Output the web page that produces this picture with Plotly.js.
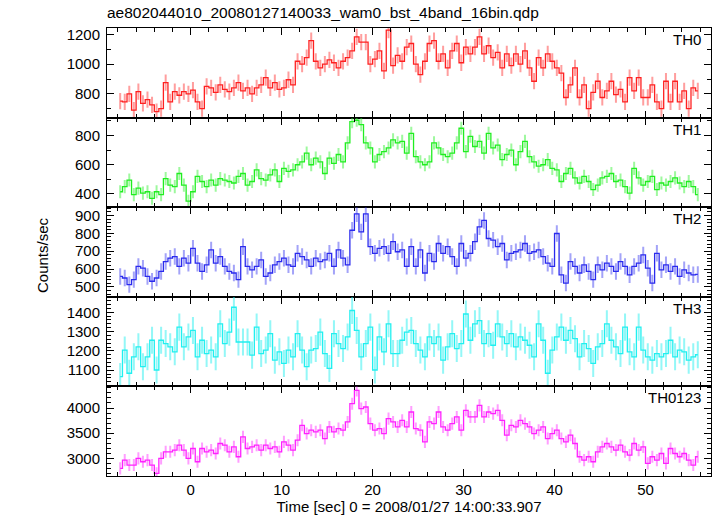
<!DOCTYPE html>
<html><head><meta charset="utf-8">
<script src="https://cdn.plot.ly/plotly-3.0.1.min.js"></script>
<style>html,body{margin:0;padding:0;background:#fff}</style>
</head><body><div id="chart" style="width:717px;height:516px"></div>
<script>
const tStart = -7.75, binWidth = 0.5;
const bandNames = ['TH0', 'TH1', 'TH2', 'TH3', 'TH0123'];
const th0 = [750,745,800,690,815,735,760,725,680,700, 875,745,815,790,815,800,825,745,700,850,
  840,810,860,830,815,840,875,820,840,800, 840,860,910,840,875,830,840,895,860,1020,
  1000,1045,1160,1020,975,1000,1030,1010,975,1020, 1045,1090,1185,1150,1150,1000,1035,1090,955,1230,
  990,1060,1020,1115,1140,1000,930,1020,1140,1160, 1020,1070,975,1090,1140,1010,1115,1070,1115,1185,
  1070,1125,1045,1080,975,1070,990,1070,1000,1090, 975,885,1045,975,1070,1020,975,940,775,860,
  975,775,860,700,810,885,775,820,885,795, 830,745,910,820,910,775,775,860,745,700,
  885,745,885,745,820,700,840,820];
const th1 = [415,450,495,395,440,405,415,370,415,395, 505,460,450,540,460,350,415,520,485,450,
  495,460,505,495,485,475,520,540,460,485, 565,505,495,530,565,485,575,555,565,600,
  620,680,600,645,620,540,645,610,670,620, 750,895,905,875,750,715,620,670,690,715,
  770,750,760,680,815,655,620,600,620,750, 715,670,655,680,750,850,690,795,725,760,
  680,815,715,735,635,670,700,600,690,760, 655,620,590,600,635,575,565,485,540,575,
  510,475,520,485,430,460,510,520,540,485, 495,450,405,575,510,460,485,520,430,475,
  460,485,510,475,450,485,450,395];
const th2 = [559,550,513,541,615,605,559,532,550,587, 642,661,670,615,661,633,716,633,587,624,
  707,633,670,615,587,578,541,725,615,596, 615,651,559,578,624,642,661,624,615,688,
  670,651,615,661,642,651,688,615,707,661, 624,817,909,808,909,725,688,716,725,688,
  753,697,707,615,725,615,707,578,688,642, 743,688,725,670,615,743,661,688,753,836,
  872,771,762,725,743,651,688,697,707,743, 688,697,707,670,633,615,799,568,522,642,
  615,578,624,587,541,624,596,633,615,587, 642,615,568,615,633,679,605,522,688,596,
  624,587,615,559,596,578,568,570];
const th3 = [1067,1204,1084,1169,1221,1118,1169,1255,1101,1255, 1238,1221,1195,1323,1221,1272,1306,1169,1255,1186,
  1204,1169,1340,1238,1297,1426,1246,1246,1246,1178, 1323,1186,1204,1289,1152,1195,1135,1204,1169,1289,
  1204,1118,1204,1212,1297,1186,1109,1289,1238,1212, 1272,1409,1306,1169,1238,1323,1101,1272,1195,1340,
  1186,1186,1255,1297,1306,1238,1204,1169,1272,1238, 1272,1152,1221,1289,1212,1238,1391,1255,1340,1357,
  1238,1289,1229,1340,1272,1238,1289,1221,1272,1255, 1229,1169,1340,1255,1084,1204,1272,1323,1255,1306,
  1263,1169,1238,1212,1135,1221,1238,1340,1255,1221, 1186,1323,1195,1169,1323,1204,1169,1152,1186,1169,
  1186,1255,1169,1204,1195,1152,1169,1180];
const th0123 = [2801,2966,2867,2867,3000,2933,2966,2867,2702,3000, 3130,3130,3163,3262,3163,3000,3196,2933,3196,3130,
  3163,3097,3295,3262,3130,3229,3032,3427,3196,3229, 3262,3163,3262,3196,3229,3130,3328,3262,3163,3361,
  3657,3493,3559,3526,3559,3394,3624,3526,3592,3559, 3723,4086,4349,3987,4020,3690,3559,3592,3493,3789,
  3723,3624,3756,3624,3921,3592,3559,3328,3723,3690, 3921,3624,3559,3690,3822,3559,3954,3822,3822,4053,
  3822,3921,3888,3954,3756,3460,3657,3624,3756,3690, 3624,3493,3559,3624,3394,3493,3559,3394,3328,3460,
  3295,3032,2966,3032,2933,3130,3229,3295,3229,3163, 3262,3130,3064,3295,3163,3229,2900,3032,2966,3097,
  2900,3196,3097,3032,3097,2966,2867,3032];
const bandErrors = [55, 45, 46, 70, 120];
const xTitleText = 'Time [sec] 0 = 2008/01/27 14:00:33.907';
const chartTitle = 'ae802044010_20080127140033_wam0_bst_4band_16bin.qdp';

const series = [th0, th1, th2, th3, th0123];
const lineColors = ['#ff2020', '#20ee20', '#2a2aee', '#20f0f0', '#ff20ff'];
const errColors = ['rgba(255,40,40,0.45)', 'rgba(40,240,40,0.45)', 'rgba(50,50,240,0.45)', 'rgba(40,240,240,0.5)', 'rgba(255,40,255,0.45)'];
const yRanges = [[639, 1245], [309, 923], [445, 946], [1016, 1480], [2650, 4429]];
const yMajor = [200, 200, 100, 100, 500];
const yMinor = [100, 100, 20, 20, 100];
const font = {family: 'Liberation Sans, Arial, sans-serif', size: 15, color: '#000'};

const traces = [];
const layout = {
  width: 717, height: 516,
  margin: {l: 107, r: 6, t: 28, b: 40},
  paper_bgcolor: '#fff', plot_bgcolor: '#fff',
  showlegend: false, font: font,
  title: {text: chartTitle, x: 0, xref: 'paper', xanchor: 'left', y: 1 - 13 / 516, yref: 'container', yanchor: 'middle',
    font: {family: font.family, size: 15.5, color: '#000'}},
  annotations: []
};
for (let k = 0; k < 5; k++) {
  const sfx = k === 0 ? '' : String(k + 1);
  traces.push({
    type: 'scatter', mode: 'lines',
    x0: tStart, dx: binWidth, y: series[k],
    xaxis: 'x' + sfx, yaxis: 'y' + sfx,
    line: {color: lineColors[k], width: 1.3, shape: 'hvh'},
    error_y: {type: 'constant', value: bandErrors[k], color: errColors[k], thickness: 2, width: 0}
  });
  const top = 1 - 0.2 * k, bot = 1 - 0.2 * (k + 1);
  layout['xaxis' + sfx] = {
    anchor: 'y' + sfx, domain: [0, 1], range: [-9.2, 57.2],
    showgrid: false, zeroline: false, showline: true, linecolor: '#000', linewidth: 1,
    ticks: 'inside', ticklen: 7, tickcolor: '#000', dtick: 10, tick0: 0, mirror: 'allticks',
    minor: {ticks: 'inside', ticklen: 4, dtick: 2, tick0: 0, tickcolor: '#000'},
    showticklabels: k === 4, tickfont: font,
    title: k === 4 ? {text: xTitleText, font: font, standoff: 4} : {text: ''}
  };
  layout['yaxis' + sfx] = {
    anchor: 'x' + sfx, domain: [bot, top], range: yRanges[k],
    showgrid: false, zeroline: false, showline: true, linecolor: '#000', linewidth: 1,
    ticks: 'inside', ticklen: 7, tickcolor: '#000', dtick: yMajor[k], mirror: 'allticks',
    minor: {ticks: 'inside', ticklen: 4, dtick: yMinor[k], tickcolor: '#000'},
    tickfont: font, ticklabelstandoff: 3
  };
  layout.annotations.push({
    text: bandNames[k], xref: 'paper', yref: 'y' + sfx + ' domain',
    x: 0.986, y: 1, xanchor: 'right', yanchor: 'top', yshift: -1, showarrow: false, font: font
  });
}
layout.annotations.push({
  text: 'Counts/sec', textangle: -90, xref: 'paper', yref: 'paper',
  x: (42 - 107) / 604, y: (476 - 255) / 448, xanchor: 'center', yanchor: 'middle', showarrow: false, font: font
});
Plotly.newPlot('chart', traces, layout, {displayModeBar: false, staticPlot: true});
</script></body></html>
